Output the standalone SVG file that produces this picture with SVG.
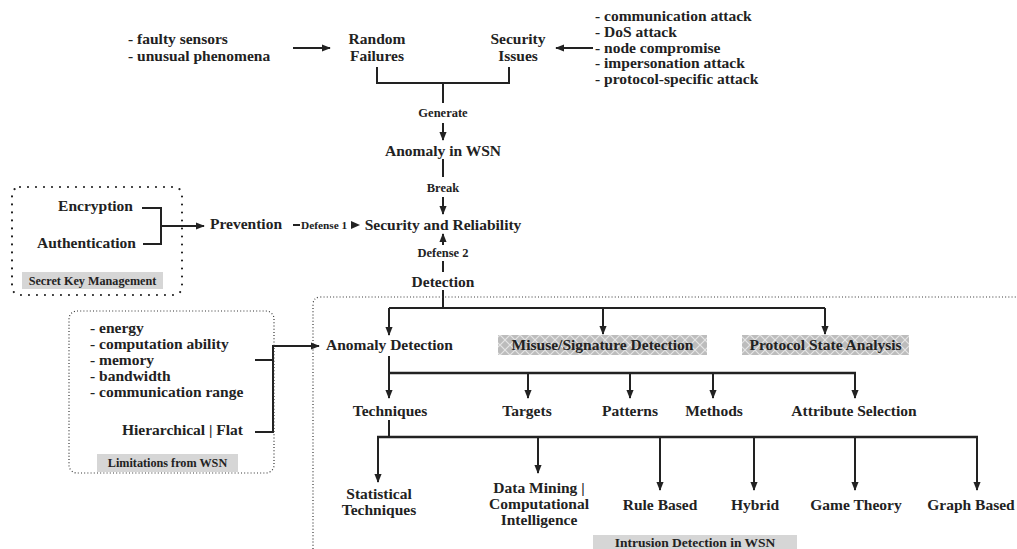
<svg xmlns="http://www.w3.org/2000/svg" width="1017" height="549" viewBox="0 0 1017 549">
<style>
text{font-family:"Liberation Serif","Times New Roman",serif;font-weight:bold;fill:#222;font-size:15.5px}
.m{text-anchor:middle}
.e{text-anchor:end}
.s{font-size:12.5px}
.t{font-size:12.2px}
.d{font-size:11.3px}
.b{font-size:13.5px}
.ln{stroke:#222;stroke-width:2;fill:none}
.thick{stroke:#222;stroke-width:2.6;fill:none}
.arr{marker-end:url(#ah)}
.bigdot{fill:none;stroke:#222;stroke-width:2.2;stroke-dasharray:0 8;stroke-linecap:round}
.finedot{fill:none;stroke:#333;stroke-width:1.2;stroke-dasharray:1 2.2}
.tag{fill:#d6d6d6}
</style>
<defs>
<marker id="ah" viewBox="0 0 10 10" refX="9" refY="5" markerWidth="9" markerHeight="9" markerUnits="userSpaceOnUse" orient="auto">
<path d="M0 1 L10 5 L0 9 z" fill="#222"/>
</marker>
<pattern id="lattice" width="10" height="10" patternUnits="userSpaceOnUse">
<rect width="10" height="10" fill="#bcbcbc"/>
<path d="M0 5 Q2.5 2.5 5 0 Q7.5 2.5 10 5 Q7.5 7.5 5 10 Q2.5 7.5 0 5" stroke="#e4e4e4" stroke-width="1.1" fill="none"/>
</pattern>
</defs>

<g id="connectors">
<path class="ln arr" d="M293 48 H330"/>
<path class="ln arr" d="M593 48 H556"/>
<path class="ln" d="M377 67 V83 H509 V67 M443 83 V103"/>
<path class="ln arr" d="M443 123 V140"/>
<path class="ln" d="M443 159 V177"/>
<path class="ln arr" d="M443 197 V214"/>
<path class="ln arr" d="M443 245 V234"/>
<path class="ln" d="M443 261 V272"/>
<path class="ln" d="M142 208 H161 V244 H143"/>
<path class="ln arr" d="M161 226 H204"/>
<path class="ln" d="M293 225 H300"/>
<path d="M351 221 L360 225 L351 229 z" fill="#222"/>
<path class="ln" d="M443 290 V308 M389 308 H825"/>
<path class="ln arr" d="M389 308 V335"/>
<path class="ln arr" d="M603 308 V334"/>
<path class="ln arr" d="M825 308 V334"/>
<path class="ln" d="M255 360 H273 M255 432 H273 V346"/>
<path class="ln arr" d="M272 346 H319"/>
<path class="ln" d="M389 356 V373"/>
<path class="thick" d="M388 373 H856"/>
<path class="ln arr" d="M389 373 V398"/>
<path class="ln arr" d="M528 373 V398"/>
<path class="ln arr" d="M630 373 V398"/>
<path class="ln arr" d="M713 373 V398"/>
<path class="ln arr" d="M855 373 V398"/>
<path class="ln" d="M389 420 V437"/>
<path class="thick" d="M377 437 H978"/>
<path class="ln arr" d="M378 437 V482"/>
<path class="ln arr" d="M538 437 V473"/>
<path class="ln arr" d="M660 437 V490"/>
<path class="ln arr" d="M754 437 V490"/>
<path class="ln arr" d="M855 437 V490"/>
<path class="ln arr" d="M977 437 V490"/>
</g>

<g id="causes-random">
<text x="128" y="44">- faulty sensors</text>
<text x="128" y="61">- unusual phenomena</text>
</g>
<g id="random-failures">
<text class="m" x="377" y="44">Random</text>
<text class="m" x="377" y="61">Failures</text>
</g>
<g id="security-issues">
<text class="m" x="518" y="44">Security</text>
<text class="m" x="518" y="61">Issues</text>
</g>
<g id="attacks">
<text x="595" y="21">- communication attack</text>
<text x="595" y="37">- DoS attack</text>
<text x="595" y="53">- node compromise</text>
<text x="595" y="68">- impersonation attack</text>
<text x="595" y="84">- protocol-specific attack</text>
</g>
<g id="label-generate"><text class="m s" x="443" y="117">Generate</text></g>
<g id="anomaly-wsn"><text class="m" x="443" y="156">Anomaly in WSN</text></g>
<g id="label-break"><text class="m s" x="443" y="192">Break</text></g>
<g id="security-reliability"><text class="m" x="443" y="230">Security and Reliability</text></g>
<g id="label-defense2"><text class="m s" x="443" y="257">Defense 2</text></g>
<g id="detection"><text class="m" x="443" y="287">Detection</text></g>
<g id="label-defense1"><text class="d" x="301" y="229">Defense 1</text></g>

<g id="secret-key-box">
<rect class="bigdot" x="12" y="187" width="170" height="108" rx="8"/>
<text class="e" x="133" y="211">Encryption</text>
<text class="e" x="136" y="248">Authentication</text>
<rect class="tag" x="22" y="272" width="141" height="17"/>
<text class="m t" x="92.5" y="285">Secret Key Management</text>
</g>
<g id="prevention"><text x="210" y="229">Prevention</text></g>

<g id="intrusion-detection-box">
<path class="finedot" d="M313 549 V305 Q313 297 321 297 H1017"/>
<rect class="tag" x="593" y="535" width="204" height="16"/>
<text class="m b" x="695" y="547">Intrusion Detection in WSN</text>
</g>

<g id="limitations-box">
<rect class="finedot" x="69" y="311" width="205" height="162" rx="8"/>
<text x="90" y="333">- energy</text>
<text x="90" y="349">- computation ability</text>
<text x="90" y="365">- memory</text>
<text x="90" y="381">- bandwidth</text>
<text x="90" y="397">- communication range</text>
<text class="e" x="243" y="435">Hierarchical | Flat</text>
<rect class="tag" x="97" y="454" width="141" height="18"/>
<text class="m t" x="167.5" y="467">Limitations from WSN</text>
</g>

<g id="anomaly-detection"><text x="326" y="350">Anomaly Detection</text></g>
<g id="misuse-detection">
<rect x="498" y="335" width="209" height="20" fill="url(#lattice)"/>
<text class="m" x="602.5" y="350">Misuse/Signature Detection</text>
</g>
<g id="protocol-state">
<rect x="742" y="335" width="167" height="20" fill="url(#lattice)"/>
<text class="m" x="825.5" y="350">Protocol State Analysis</text>
</g>

<g id="techniques"><text class="m" x="390" y="416">Techniques</text></g>
<g id="targets"><text class="m" x="527" y="416">Targets</text></g>
<g id="patterns"><text class="m" x="630" y="416">Patterns</text></g>
<g id="methods"><text class="m" x="714" y="416">Methods</text></g>
<g id="attribute-selection"><text class="m" x="854" y="416">Attribute Selection</text></g>

<g id="statistical">
<text class="m" x="379" y="499">Statistical</text>
<text class="m" x="379" y="515">Techniques</text>
</g>
<g id="data-mining">
<text class="m" x="539" y="493">Data Mining |</text>
<text class="m" x="539" y="509">Computational</text>
<text class="m" x="539" y="525">Intelligence</text>
</g>
<g id="rule-based"><text class="m" x="660" y="510">Rule Based</text></g>
<g id="hybrid"><text class="m" x="755" y="510">Hybrid</text></g>
<g id="game-theory"><text class="m" x="856" y="510">Game Theory</text></g>
<g id="graph-based"><text class="m" x="971" y="510">Graph Based</text></g>
</svg>
